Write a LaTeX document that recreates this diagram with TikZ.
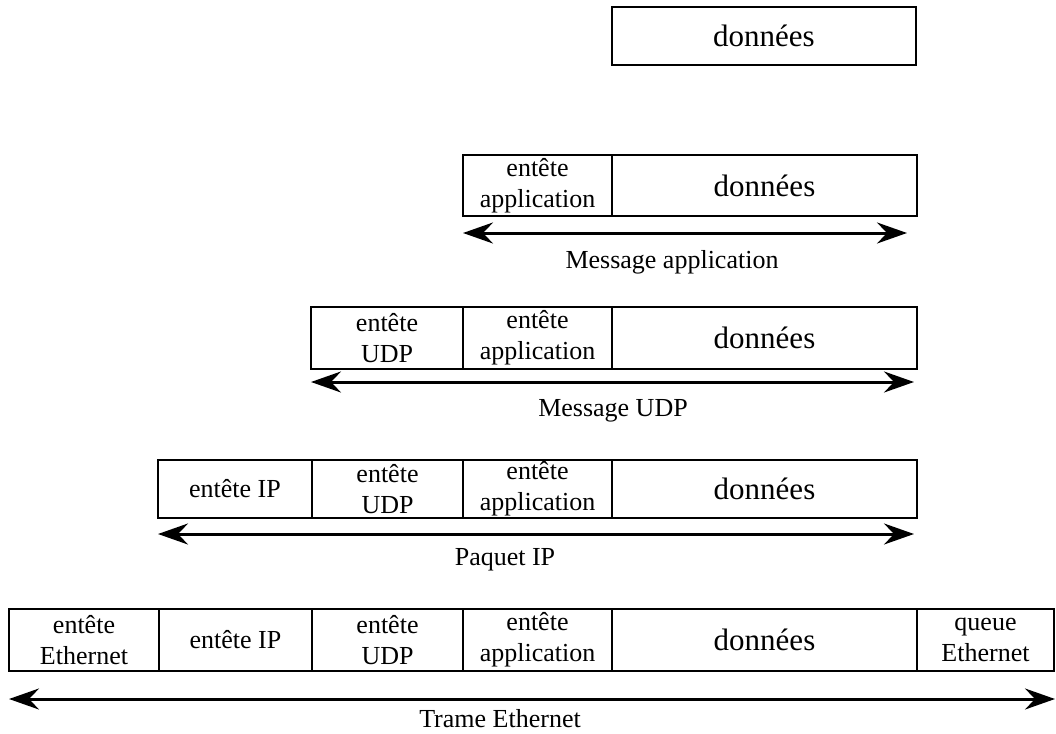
\documentclass[tikz,border=0pt]{standalone}
\usepackage{fontspec}
\setmainfont{Liberation Serif}
\usetikzlibrary{arrows.meta}
\tikzset{
  cell/.style={draw, line width=2.2pt, rectangle, inner sep=0pt, align=center,
    font=\fontsize{26}{31}\selectfont},
  big/.style={font=\fontsize{31}{37}\selectfont},
  span/.style={line width=3pt, {Stealth[length=30pt,width=21pt,inset=10pt]}-{Stealth[length=30pt,width=21pt,inset=10pt]}},
  lbl/.style={anchor=base, inner sep=0pt, font=\fontsize{26}{31}\selectfont}
}
\newcommand{\mycell}[7]{% name, x1, x2, y1, y2, style, text
  \node[cell,#6, minimum width={(#3-#2)*1pt}, minimum height={(#5-#4)*1pt}]
    (#1) at ({(#2+#3)/2},{(#4+#5)/2}) {#7};}
\begin{document}
\begin{tikzpicture}[x=1pt,y=-1pt]
\useasboundingbox (0,0) rectangle (1056,733);
% row 1
\mycell{d1}{612}{916}{7}{65}{big}{données}
% row 2
\mycell{a2}{463}{612}{155}{216}{}{entête\\application}
\mycell{d2}{612}{917}{155}{216}{big}{données}
\coordinate (l2) at (463,233); \coordinate (r2) at (907,233);
\draw[span] (l2) -- (r2);
\node[lbl] (t2) at (672,268) {Message application};
% row 3
\mycell{u3}{311}{463}{307}{369}{}{entête\\UDP}
\mycell{a3}{463}{612}{307}{369}{}{entête\\application}
\mycell{d3}{612}{917}{307}{369}{big}{données}
\coordinate (l3) at (311,382); \coordinate (r3) at (914,382);
\draw[span] (l3) -- (r3);
\node[lbl] (t3) at (613,416) {Message UDP};
% row 4
\mycell{i4}{158}{312}{460}{518}{}{entête IP}
\mycell{u4}{312}{463}{460}{518}{}{entête\\UDP}
\mycell{a4}{463}{612}{460}{518}{}{entête\\application}
\mycell{d4}{612}{917}{460}{518}{big}{données}
\coordinate (l4) at (158,534); \coordinate (r4) at (914,534);
\draw[span] (l4) -- (r4);
\node[lbl] (t4) at (505,565) {Paquet IP};
% row 5
\mycell{e5}{9}{159}{609}{671}{}{entête\\Ethernet}
\mycell{i5}{159}{312}{609}{671}{}{entête IP}
\mycell{u5}{312}{463}{609}{671}{}{entête\\UDP}
\mycell{a5}{463}{612}{609}{671}{}{entête\\application}
\mycell{d5}{612}{917}{609}{671}{big}{données}
\mycell{q5}{917}{1054}{609}{671}{}{queue\\Ethernet}
\coordinate (l5) at (9,699); \coordinate (r5) at (1055,699);
\draw[span] (l5) -- (r5);
\node[lbl] (t5) at (500,727) {Trame Ethernet};
\end{tikzpicture}
\end{document}
